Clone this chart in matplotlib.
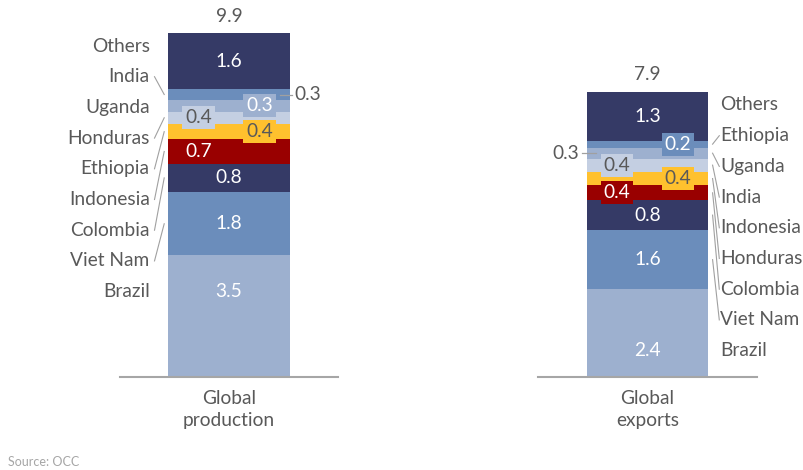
import matplotlib.pyplot as plt

plt.rcParams['font.family'] = ['Lato', 'DejaVu Sans']

# data (bottom of the stack first)
prod_countries = ["Brazil", "Viet Nam", "Colombia", "Indonesia", "Ethiopia",
                  "Honduras", "Uganda", "India", "Others"]
production = [3.5, 1.82, 0.82, 0.7, 0.44, 0.36, 0.34, 0.3, 1.62]

exp_countries = ["Brazil", "Viet Nam", "Colombia", "Honduras", "Indonesia",
                 "India", "Uganda", "Ethiopia", "Others"]
exports = [2.42, 1.64, 0.82, 0.41, 0.38, 0.36, 0.3, 0.2, 1.34]

bar_titles = ["Global\nproduction", "Global\nexports"]

# styling, one entry per stack position
seg_colors = ['#9DB0CF', '#6B8DBB', '#353A66', '#990000', '#FFC12E',
              '#C4CFE2', '#9DB0CF', '#6B8DBB', '#353A66']
txt_colors = ['white', 'white', 'white', 'white', '#595959',
              '#595959', 'white', 'white', 'white']
# 'cl' = centred horizontally, at the height of the category label
prod_place = ['cl', 'c', 'c', 'l', 'r', 'l', 'r', 'out_r', 'c']
exp_place = ['cl', 'c', 'c', 'l', 'r', 'l', 'out_l', 'r', 'c']

GREY = '#595959'
LINE = '#A0A0A0'
FS = 13.8

W, H = 804, 470
fig = plt.figure(figsize=(W / 100, H / 100), dpi=100)

BASE = 377      # pixel row of the baseline
AX_TOP = 33     # pixel row of the axes top
ax_h_px = BASE - AX_TOP


def draw_panel(left_px, width_px, top_px, names, values, place, title, side):
    ax = fig.add_axes([left_px / W, (H - BASE) / H, width_px / W, ax_h_px / H])
    total = sum(values)
    ymax = total * ax_h_px / (BASE - top_px)
    ax.set_ylim(0, ymax)
    ax.set_xlim(-0.9, 0.9)
    ppu = ax_h_px / ymax  # pixels per unit
    n = len(names)

    def label_y(k):
        return total - (13 + (n - 1 - k) * 30.7) / ppu

    bottom = 0
    centers = []
    for i, v in enumerate(values):
        ax.bar(0, v, width=1.0, bottom=bottom, color=seg_colors[i],
               edgecolor='none', zorder=2)
        c = bottom + v / 2
        centers.append((bottom, bottom + v, c))
        lab = f"{v:.1f}"
        p = place[i]
        if p in ('c', 'cl'):
            yy = c if p == 'c' else label_y(i)
            ax.text(0, yy, lab, ha='center', va='center', color=txt_colors[i],
                    fontsize=FS, zorder=4)
        elif p in ('l', 'r'):
            x = -0.25 if p == 'l' else 0.25
            ax.text(x, c, lab, ha='center', va='center', color=txt_colors[i],
                    fontsize=FS, zorder=5,
                    bbox=dict(boxstyle='square,pad=0.15', fc=seg_colors[i], ec='none'))
        elif p == 'out_r':
            ax.plot([0.42, 0.52], [c, c], color=LINE, lw=0.9, zorder=4, clip_on=False)
            ax.text(0.54, c, lab, ha='left', va='center', color=GREY,
                    fontsize=FS, clip_on=False)
        elif p == 'out_l':
            ax.plot([-0.42, -0.535], [c, c], color=LINE, lw=0.9, zorder=4, clip_on=False)
            ax.text(-0.56, c, lab, ha='right', va='center', color=GREY,
                    fontsize=FS, clip_on=False)
        bottom += v

    # total on top
    ax.annotate(f"{total:.1f}", (0, total), xytext=(0, 17), textcoords='offset pixels',
                ha='center', va='center', color=GREY, fontsize=FS)

    # category labels with leader lines
    for k, name in enumerate(names):
        ly = label_y(k)
        lo, hi, c = centers[k]
        if side == 'left':
            ax.text(-0.655, ly, name, ha='right', va='center', color=GREY,
                    fontsize=FS, clip_on=False)
            if not (lo <= ly <= hi):
                ax.plot([-0.615, -0.535], [ly, c], color=LINE, lw=0.8, clip_on=False)
        else:
            ax.text(0.6, ly, name, ha='left', va='center', color=GREY,
                    fontsize=FS, clip_on=False)
            if not (lo <= ly <= hi):
                ax.plot([0.535, 0.59], [c, ly], color=LINE, lw=0.8, clip_on=False)

    for s in ['top', 'left', 'right']:
        ax.spines[s].set_visible(False)
    ax.spines['bottom'].set_color('#A6A6A6')
    ax.spines['bottom'].set_linewidth(1.5)
    ax.set_yticks([])
    ax.set_xticks([0])
    ax.set_xticklabels([title], linespacing=1.4)
    ax.tick_params(axis='x', length=0, pad=9, labelsize=FS, labelcolor=GREY)
    ax.patch.set_visible(False)
    return ax


draw_panel(120, 218, 33, prod_countries, production, prod_place, bar_titles[0], 'left')
draw_panel(538, 219, 92, exp_countries, exports, exp_place, bar_titles[1], 'right')

fig.text(8 / W, 1 - 462 / H, "Source: OCC", fontsize=9, color='#A6A6A6', va='center')

fig.savefig('out.png', dpi=100)
